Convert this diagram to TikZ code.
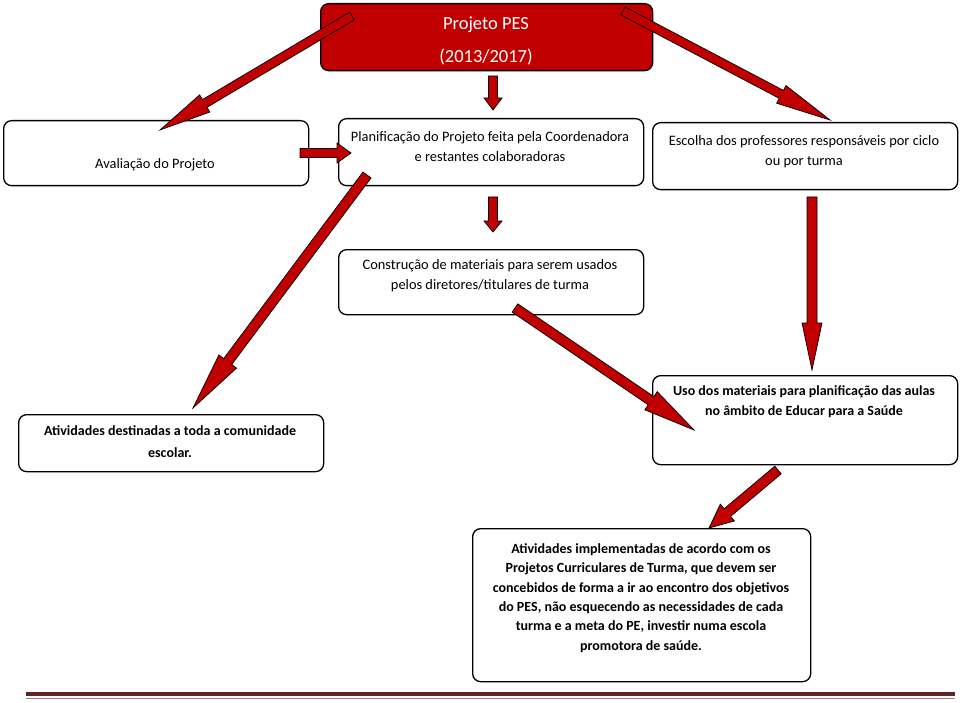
\documentclass[tikz,border=0pt]{standalone}
\usepackage{fontspec}
\setmainfont{Carlito}
\usepackage{tikz}
\usetikzlibrary{positioning,calc}
\definecolor{pesred}{RGB}{192,0,0}
\definecolor{footred}{RGB}{98,36,35}
\definecolor{footpale}{RGB}{170,120,120}

% block arrow: tail, tip, shaft half-width, head half-width, head length
\newcommand{\fatarrow}[5]{%
  \coordinate (neck) at ($(#2)!#5pt!(#1)$);
  \filldraw[redarrow] ($(#1)!#3pt!90:(#2)$) -- ($(neck)!#3pt!90:(#2)$)
    -- ($(neck)!#4pt!90:(#2)$) -- (#2) -- ($(neck)!#4pt!-90:(#2)$)
    -- ($(neck)!#3pt!-90:(#2)$) -- ($(#1)!#3pt!-90:(#2)$) -- cycle;
}

\tikzset{
  box/.style={draw, line width=1.3pt, rounded corners=8pt, fill=white, anchor=north west},
  redarrow/.style={fill=pesred, draw=black, line width=0.7pt, line join=miter},
  txt/.style={align=center, inner sep=0pt, font=\fontsize{14.4}{20}\selectfont},
  btxt/.style={align=center, inner sep=0pt, font=\fontsize{14}{20}\selectfont\bfseries},
}

\begin{document}
\begin{tikzpicture}[x=1pt, y=-1pt]
  \useasboundingbox (0,0) rectangle (960,703);

  % boxes
  \node[box, fill=pesred, minimum width=332, minimum height=67] (pes) at (320,3) {};
  \node[box, minimum width=305, minimum height=65] (aval)    at (3,120)   {};
  \node[box, minimum width=305, minimum height=67] (plan)    at (338,118) {};
  \node[box, minimum width=305, minimum height=67] (escolha) at (652,122) {};
  \node[box, minimum width=305, minimum height=65] (constr)  at (338,249) {};
  \node[box, minimum width=305, minimum height=57] (ativ)    at (18,414)  {};
  \node[box, minimum width=305, minimum height=89] (uso)     at (652,375) {};
  \node[box, minimum width=338, minimum height=153] (impl)   at (472,528) {};

  % texts
  \node[txt, text=white, font=\fontsize{18.5}{33}\selectfont] (pesT) at (486,40.5)
    {Projeto PES\\(2013/2017)};
  \node[txt] (avalT)   at (155,165)   {Avaliação do Projeto};
  \node[txt] (planT)   at (490,147)   {Planificação do Projeto feita pela Coordenadora\\e restantes colaboradoras};
  \node[txt] (escolhaT) at (804,151.5) {Escolha dos professores responsáveis por ciclo\\ou por turma};
  \node[txt] (constrT) at (490,276) {Construção de materiais para serem usados\\pelos diretores/titulares de turma};
  \node[btxt, font=\fontsize{14}{22}\selectfont\bfseries] (ativT) at (170,442)
    {Atividades destinadas a toda a comunidade\\escolar.};
  \node[btxt] (usoT)   at (804,402) {Uso dos materiais para planificação das aulas\\no âmbito de Educar para a Saúde};
  \node[btxt, font=\fontsize{14}{19.4}\selectfont\bfseries] (implT) at (641,598)
    {Atividades implementadas de acordo com os\\Projetos Curriculares de Turma, que devem ser\\concebidos de forma a ir ao encontro dos objetivos\\do PES, não esquecendo as necessidades de cada\\turma e a meta do PE, investir numa escola\\promotora de saúde.};

  % arrow ends
  \coordinate (s1) at (352,16);  \coordinate (e1) at (160,130);
  \coordinate (s2) at (493,76);  \coordinate (e2) at (493,110);
  \coordinate (s3) at (623,11);  \coordinate (e3) at (830,120);
  \coordinate (s4) at (300,153); \coordinate (e4) at (351,153);
  \coordinate (s5) at (493,197); \coordinate (e5) at (493,232);
  \coordinate (s6) at (367,175); \coordinate (e6) at (193,408);
  \coordinate (s7) at (812,197); \coordinate (e7) at (812,370);
  \coordinate (s8) at (515,308); \coordinate (e8) at (694,430);
  \coordinate (s9) at (778,470); \coordinate (e9) at (709,528);

  \fatarrow{s1}{e1}{4.5}{10}{52}
  \fatarrow{s2}{e2}{4.5}{9}{12}
  \fatarrow{s3}{e3}{4.5}{10}{55}
  \fatarrow{s4}{e4}{4.5}{10}{14}
  \fatarrow{s5}{e5}{4.5}{9}{11}
  \fatarrow{s6}{e6}{5}{11}{58}
  \fatarrow{s7}{e7}{5}{10}{47}
  \fatarrow{s8}{e8}{5}{11}{52}
  \fatarrow{s9}{e9}{5}{11}{24}

  % footer rule
  \draw[footred, line width=3.5pt] (26,694) -- (955,694);
  \draw[footpale, line width=1.2pt] (26,698.5) -- (955,698.5);
\end{tikzpicture}
\end{document}
